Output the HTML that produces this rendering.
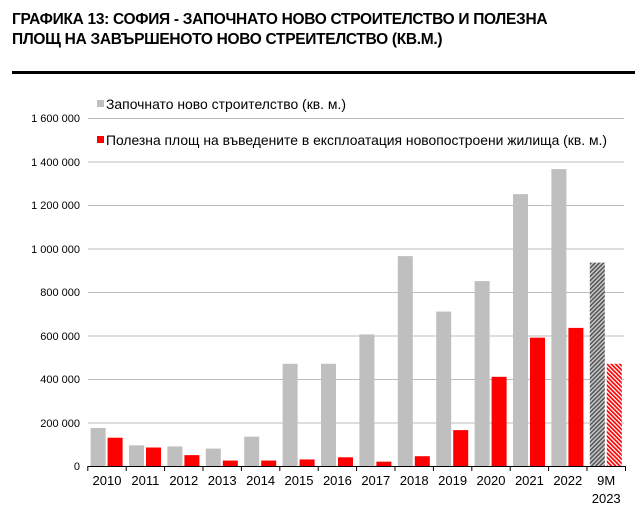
<!DOCTYPE html><html><head><meta charset="utf-8"><style>
body{margin:0;background:#fff;font-family:"Liberation Sans",Arial,sans-serif}
</style></head><body>
<svg width="635" height="515" xmlns="http://www.w3.org/2000/svg" font-family="Liberation Sans, Arial, sans-serif">
<defs>
<pattern id="hg" width="3" height="3" patternUnits="userSpaceOnUse" patternTransform="rotate(45)"><rect width="3" height="3" fill="#c8c8c8"/><rect width="1.5" height="3" fill="#555"/></pattern>
<pattern id="hr" width="3" height="3" patternUnits="userSpaceOnUse" patternTransform="rotate(-45)"><rect width="3" height="3" fill="#fff"/><rect width="1.7" height="3" fill="#f00"/></pattern>
</defs>
<text x="12" y="24" font-size="15.5" font-weight="bold" letter-spacing="-0.3">ГРАФИКА 13: СОФИЯ - ЗАПОЧНАТО НОВО СТРОИТЕЛСТВО И ПОЛЕЗНА</text>
<text x="12" y="44" font-size="15.5" font-weight="bold" letter-spacing="-0.3">ПЛОЩ НА ЗАВЪРШЕНОТО НОВО СТРЕИТЕЛСТВО (КВ.М.)</text>
<rect x="12" y="71" width="623" height="3" fill="#000"/>
<g stroke="#bdbdbd" stroke-width="1">
<line x1="88" x2="624" y1="118.5" y2="118.5"/><line x1="88" x2="624" y1="162" y2="162"/>
<line x1="88" x2="624" y1="205.5" y2="205.5"/><line x1="88" x2="624" y1="249" y2="249"/>
<line x1="88" x2="624" y1="292.5" y2="292.5"/><line x1="88" x2="624" y1="336" y2="336"/>
<line x1="88" x2="624" y1="379.5" y2="379.5"/><line x1="88" x2="624" y1="423" y2="423"/>
</g>
<g font-size="11" text-anchor="end" fill="#000">
<text x="80" y="122">1 600 000</text><text x="80" y="166">1 400 000</text><text x="80" y="209">1 200 000</text>
<text x="80" y="253">1 000 000</text><text x="80" y="296">800 000</text><text x="80" y="340">600 000</text>
<text x="80" y="383">400 000</text><text x="80" y="427">200 000</text><text x="80" y="470">0</text>
</g>
<g id="bars"></g>
<line x1="88" x2="626" y1="466.5" y2="466.5" stroke="#000"/>
<g id="ticks" stroke="#000"></g>
<g id="lab" font-size="13" text-anchor="middle"></g>
<rect x="97" y="100" width="7" height="7" fill="#bfbfbf"/>
<text x="106" y="109" font-size="14" textLength="240" lengthAdjust="spacingAndGlyphs">Започнато ново строителство (кв. м.)</text>
<rect x="97" y="136" width="7" height="7" fill="#f00"/>
<text x="106" y="145" font-size="14" textLength="501" lengthAdjust="spacingAndGlyphs">Полезна площ на въведените в експлоатация новопостроени жилища (кв. м.)</text>
<script>
var g=[175,95,90,80,135,470,470,605,965,710,850,1250,1365,935],r=[130,85,50,25,25,30,40,20,45,165,410,590,635,470];
var L=['2010','2011','2012','2013','2014','2015','2016','2017','2018','2019','2020','2021','2022','9M'];
var ns='http://www.w3.org/2000/svg',b=document.getElementById('bars'),t=document.getElementById('ticks'),l=document.getElementById('lab');
function el(p,tag,a,txt){var e=document.createElementNS(ns,tag);for(var k in a)e.setAttribute(k,a[k]);if(txt)e.textContent=txt;p.appendChild(e);}
for(var i=0;i<14;i++){var s=87.8+i*38.4,h1=g[i]*0.2175,h2=r[i]*0.2175;var last=i==13;
el(b,'rect',{x:s+2.8,y:466-h1,width:15,height:h1,fill:last?'url(#hg)':'#bfbfbf'});
el(b,'rect',{x:s+19.8,y:466-h2,width:15,height:h2,fill:last?'url(#hr)':'#f00'});
el(t,'line',{x1:s,x2:s,y1:466,y2:471});
el(l,'text',{x:s+19.2,y:485},L[i]);}
el(t,'line',{x1:625.5,x2:625.5,y1:466,y2:471});
el(l,'text',{x:87.8+13*38.4+19.2,y:503},'2023');
</script>
</svg>
</body></html>
